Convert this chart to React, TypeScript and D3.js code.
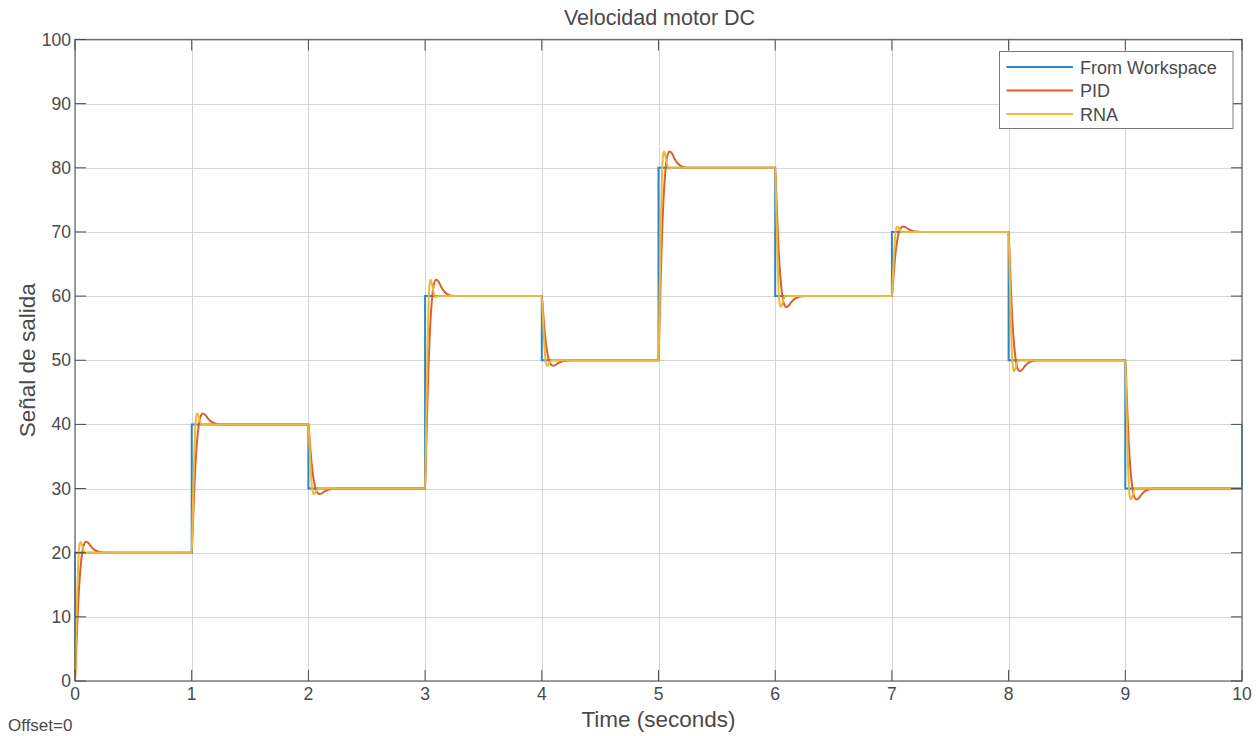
import React from "react";
import * as d3 from "d3";

// ---- data ----
const stepTimes = [0, 1, 2, 3, 4, 5, 6, 7, 8, 9];
const refTimes = [0, 0, 1, 2, 3, 4, 5, 6, 7, 8, 9, 10];
const refValues = [0, 20, 40, 30, 60, 50, 80, 60, 70, 50, 30, 40];

// offsets (s) after each step where the responses were read
const pidDt = [0, 0.01, 0.02, 0.03, 0.04, 0.05, 0.06, 0.075, 0.095, 0.115, 0.14, 0.17, 0.2, 0.25];
const pidSegments = [
  [0, 4.4, 9, 13, 16, 18.2, 19.8, 21.2, 21.7, 21.5, 20.9, 20.4, 20.14, 20],
  [20, 24.4, 29, 33, 36, 38.2, 39.8, 41.2, 41.7, 41.5, 40.9, 40.4, 40.14, 40],
  [40, 37.8, 35.5, 33.5, 32, 30.9, 30.1, 29.4, 29.15, 29.25, 29.55, 29.8, 29.93, 30],
  [30, 36.6, 43.5, 49.5, 54, 57.3, 59.7, 61.8, 62.55, 62.25, 61.35, 60.6, 60.21, 60],
  [60, 57.8, 55.5, 53.5, 52, 50.9, 50.1, 49.4, 49.15, 49.25, 49.55, 49.8, 49.93, 50],
  [50, 56.6, 63.5, 69.5, 74, 77.3, 79.7, 81.8, 82.55, 82.25, 81.35, 80.6, 80.21, 80],
  [80, 75.6, 71, 67, 64, 61.8, 60.2, 58.8, 58.3, 58.5, 59.1, 59.6, 59.86, 60],
  [60, 62.2, 64.5, 66.5, 68, 69.1, 69.9, 70.6, 70.85, 70.75, 70.45, 70.2, 70.07, 70],
  [70, 65.6, 61, 57, 54, 51.8, 50.2, 48.8, 48.3, 48.5, 49.1, 49.6, 49.86, 50],
  [50, 45.6, 41, 37, 34, 31.8, 30.2, 28.8, 28.3, 28.5, 29.1, 29.6, 29.86, 30],
];

const rnaDt = [0, 0.01, 0.02, 0.03, 0.04, 0.048, 0.06, 0.075, 0.09, 0.11];
const rnaSegments = [
  [0, 7, 14, 19.4, 21.4, 21.7, 21.2, 20.3, 19.9, 20],
  [20, 27, 34, 39.4, 41.4, 41.7, 41.2, 40.3, 39.9, 40],
  [40, 36.5, 33, 30.3, 29.3, 29.15, 29.4, 29.85, 30.05, 30],
  [30, 40.5, 51, 59.1, 62.1, 62.55, 61.8, 60.45, 59.85, 60],
  [60, 56.5, 53, 50.3, 49.3, 49.15, 49.4, 49.85, 50.05, 50],
  [50, 60.5, 71, 79.1, 82.1, 82.55, 81.8, 80.45, 79.85, 80],
  [80, 73, 66, 60.6, 58.6, 58.3, 58.8, 59.7, 60.1, 60],
  [60, 63.5, 67, 69.7, 70.7, 70.85, 70.6, 70.15, 69.95, 70],
  [70, 63, 56, 50.6, 48.6, 48.3, 48.8, 49.7, 50.1, 50],
  [50, 43, 36, 30.6, 28.6, 28.3, 28.8, 29.7, 30.1, 30],
];
const endTime = 10;
const endValue = 30;

const xTicks = [0, 1, 2, 3, 4, 5, 6, 7, 8, 9, 10];
const yTicks = [0, 10, 20, 30, 40, 50, 60, 70, 80, 90, 100];

const seriesNames = ["From Workspace", "PID", "RNA"];
const seriesColors = ["#2b88c4", "#d9602a", "#edb93a"];

// ---- layout ----
const W = 1258;
const H = 736;
const M = { left: 75, top: 39.5, right: 1242, bottom: 681 };
const FONT = "'Liberation Sans', Arial, Helvetica, sans-serif";
const TEXT = "#4a4a4a";

function buildPoints(dt: number[], segs: number[][]): [number, number][] {
  const pts: [number, number][] = [];
  segs.forEach((seg, i) => {
    seg.forEach((v, j) => pts.push([stepTimes[i] + dt[j], v]));
  });
  pts.push([endTime, endValue]);
  return pts;
}

export default function App() {
  const x = d3.scaleLinear().domain([0, 10]).range([M.left, M.right]);
  const y = d3.scaleLinear().domain([0, 100]).range([M.bottom, M.top]);

  const refPts: [number, number][] = refTimes.map((t, i) => [t, refValues[i]]);
  const stepLine = d3
    .line<[number, number]>()
    .x((d) => x(d[0]))
    .y((d) => y(d[1]))
    .curve(d3.curveStepAfter);
  const smoothLine = d3
    .line<[number, number]>()
    .x((d) => x(d[0]))
    .y((d) => y(d[1]))
    .curve(d3.curveMonotoneX);

  const pidPts = buildPoints(pidDt, pidSegments);
  const rnaPts = buildPoints(rnaDt, rnaSegments);

  const tickLen = 11;
  const lx0 = 999.5;
  const ly0 = 51.5;
  const lw = 233.5;
  const lh = 77;

  return (
    <svg width={W} height={H} style={{ position: "absolute", left: 0, top: 0, background: "#fff" }}>
      <rect x={0} y={0} width={W} height={H} fill="#fff" />
      {/* grid */}
      <g stroke="#d6d6d6" strokeWidth={1}>
        {xTicks.map((t) => (
          <line key={"gx" + t} x1={Math.round(x(t)) + 0.5} x2={Math.round(x(t)) + 0.5} y1={M.top} y2={M.bottom} />
        ))}
        {yTicks.map((t) => (
          <line key={"gy" + t} x1={M.left} x2={M.right} y1={Math.round(y(t)) + 0.5} y2={Math.round(y(t)) + 0.5} />
        ))}
      </g>
      {/* series */}
      <path d={stepLine(refPts) || ""} fill="none" stroke={seriesColors[0]} strokeWidth={2} />
      <path d={smoothLine(pidPts) || ""} fill="none" stroke={seriesColors[1]} strokeWidth={2} />
      <path d={smoothLine(rnaPts) || ""} fill="none" stroke={seriesColors[2]} strokeWidth={2} />
      {/* axes box */}
      <rect x={M.left} y={M.top} width={M.right - M.left} height={M.bottom - M.top} fill="none" stroke="#6e6e6e" strokeWidth={1.3} />
      <g stroke="#4a4a4a" strokeWidth={1}>
        {xTicks.map((t) => (
          <g key={"tx" + t}>
            <line x1={x(t)} x2={x(t)} y1={M.bottom} y2={M.bottom - tickLen} />
            <line x1={x(t)} x2={x(t)} y1={M.top} y2={M.top + tickLen} />
          </g>
        ))}
        {yTicks.map((t) => (
          <g key={"ty" + t}>
            <line x1={M.left} x2={M.left + tickLen} y1={y(t)} y2={y(t)} />
            <line x1={M.right} x2={M.right - tickLen} y1={y(t)} y2={y(t)} />
          </g>
        ))}
      </g>
      {/* tick labels */}
      <g fontFamily={FONT} fontSize={17.5} fill={TEXT}>
        {xTicks.map((t) => (
          <text key={"lx" + t} x={x(t)} y={M.bottom + 19} textAnchor="middle">
            {t}
          </text>
        ))}
        {yTicks.map((t) => (
          <text key={"ly" + t} x={M.left - 4} y={y(t) + 6} textAnchor="end">
            {t}
          </text>
        ))}
      </g>
      {/* titles */}
      <text x={(M.left + M.right) / 2 + 1} y={25} textAnchor="middle" fontFamily={FONT} fontSize={21.5} fill={TEXT}>
        Velocidad motor DC
      </text>
      <text x={(M.left + M.right) / 2} y={727} textAnchor="middle" fontFamily={FONT} fontSize={22.5} fill={TEXT}>
        Time (seconds)
      </text>
      <text
        transform={`translate(35, ${(M.top + M.bottom) / 2}) rotate(-90)`}
        textAnchor="middle"
        fontFamily={FONT}
        fontSize={22.5}
        fill={TEXT}
      >
        Señal de salida
      </text>
      <text x={8} y={731} fontFamily={FONT} fontSize={17} fill={TEXT}>
        Offset=0
      </text>
      {/* legend */}
      <rect x={lx0} y={ly0} width={lw} height={lh} fill="#fff" stroke="#7a7a7a" strokeWidth={1} />
      {seriesNames.map((n, i) => (
        <g key={n}>
          <line x1={1006.5} x2={1073} y1={67 + i * 23.5} y2={67 + i * 23.5} stroke={seriesColors[i]} strokeWidth={2} />
          <text x={1080} y={67 + i * 23.5 + 6.5} fontFamily={FONT} fontSize={18} fill={TEXT}>
            {n}
          </text>
        </g>
      ))}
    </svg>
  );
}
